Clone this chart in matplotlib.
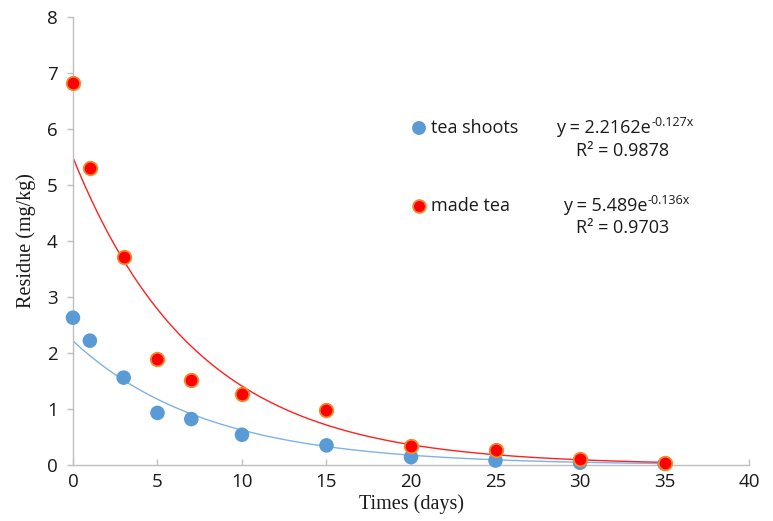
import numpy as np
import matplotlib
matplotlib.use("Agg")
import matplotlib.pyplot as plt

days = [0, 1, 3, 5, 7, 10, 15, 20, 25, 30, 35]
tea_shoots = [2.63, 2.22, 1.56, 0.93, 0.82, 0.54, 0.35, 0.14, 0.08, 0.04, 0.02]
made_tea = [6.82, 5.31, 3.72, 1.90, 1.51, 1.26, 0.99, 0.34, 0.27, 0.10, 0.03]

# trendline coefficients as printed on the chart: y = a * exp(b x)
fit_shoots = (2.2162, -0.127)
fit_made = (5.489, -0.136)
eq_shoots = ("y = 2.2162e", "-0.127x", "R² = 0.9878")
eq_made = ("y = 5.489e", "-0.136x", "R² = 0.9703")
series_names = ["tea shoots", "made tea"]

xticks = [0, 5, 10, 15, 20, 25, 30, 35, 40]
yticks = [0, 1, 2, 3, 4, 5, 6, 7, 8]

sans = ['Open Sans', 'DejaVu Sans']
serif = ['Liberation Serif', 'DejaVu Serif']
txtc = '#1a1a1a'

fig = plt.figure(figsize=(7.73, 5.21), dpi=100)
ax = fig.add_axes([0.0944, 0.1075, 0.8746, 0.8600])

blue = '#5B9BD5'
red = '#FF0000'
red_edge = '#F28A2E'
xs = np.linspace(0, 35, 300)
ax.plot(xs, fit_shoots[0] * np.exp(fit_shoots[1] * xs), color='#7FB2E5', lw=1.0, zorder=2)
ax.plot(xs, fit_made[0] * np.exp(fit_made[1] * xs), color='#FF2020', lw=1.0, zorder=2)

ax.scatter(days, tea_shoots, s=110, color=blue, edgecolors='none', zorder=3, clip_on=False)
ax.scatter(days, made_tea, s=95, color=red, edgecolors=red_edge, linewidths=1.3, zorder=4, clip_on=False)

ax.set_xlim(0, 40)
ax.set_ylim(0, 8)
ax.set_xticks(xticks)
ax.set_yticks(yticks)
for lab in ax.get_xticklabels() + ax.get_yticklabels():
    lab.set_family(sans)
    lab.set_fontsize(13.5)
    lab.set_color(txtc)
ax.tick_params(axis='both', color='#BFBFBF', length=4, width=1)
ax.tick_params(axis='x', direction='in', pad=6)
ax.tick_params(axis='y', direction='out', pad=7)
for s in ['top', 'right']:
    ax.spines[s].set_visible(False)
for s in ['left', 'bottom']:
    ax.spines[s].set_color('#BFBFBF')
    ax.spines[s].set_linewidth(1)

ax.set_xlabel('Times (days)', family=serif, fontsize=14.5, labelpad=2, color=txtc)
ax.set_ylabel('Residue (mg/kg)', family=serif, fontsize=14.5, labelpad=8, color=txtc)

# legend-like annotations in a pixel-coordinate overlay
ax2 = fig.add_axes([0, 0, 1, 1], facecolor='none')
ax2.set_xlim(0, 773)
ax2.set_ylim(521, 0)
ax2.axis('off')
ax2.scatter([419], [128], s=100, color=blue, edgecolors='none')
ax2.scatter([419], [206], s=85, color=red, edgecolors=red_edge, linewidths=1.3)
ax2.text(431, 128, series_names[0], fontsize=13, ha='left', va='center', family=sans, color=txtc)
ax2.text(431, 206, series_names[1], fontsize=13, ha='left', va='center', family=sans, color=txtc)

fig.canvas.draw()
renderer = fig.canvas.get_renderer()

def equation(x0, y0, eq, rx, ry):
    t = ax2.text(x0, y0, eq[0], fontsize=13, ha='left', va='center', family=sans, color=txtc)
    bb = t.get_window_extent(renderer)
    xr = bb.x1 / fig.dpi / fig.get_figwidth() * 773
    ax2.text(xr + 0.5, y0 - 6, eq[1], fontsize=9, ha='left', va='center', family=sans, color=txtc)
    ax2.text(rx, ry, eq[2], fontsize=13, ha='center', va='center', family=sans, color=txtc)

equation(556, 128, eq_shoots, 623, 151)
equation(563, 206, eq_made, 623, 228)

fig.savefig('out.png', dpi=100)
